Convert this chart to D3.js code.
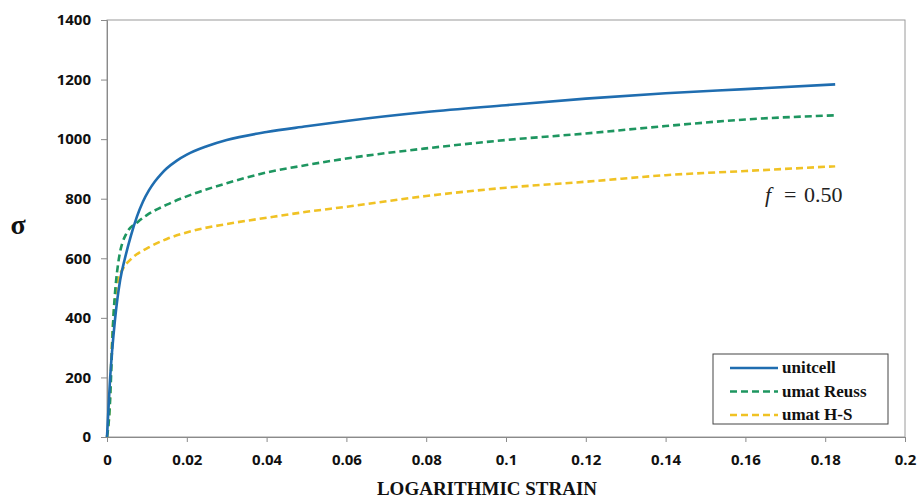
<!DOCTYPE html>
<html><head><meta charset="utf-8">
<script src="https://cdn.jsdelivr.net/npm/d3@7"></script>
<style>body{margin:0;background:#fff}</style>
</head><body>
<svg id="chart" width="920" height="498"></svg>
<script>
const xTicks = [0,0.02,0.04,0.06,0.08,0.1,0.12,0.14,0.16,0.18,0.2];
const yTicks = [0,200,400,600,800,1000,1200,1400];
const seriesNames = ["unitcell","umat Reuss","umat H-S"];

const unitcellStrain = [0,0.00075,0.002,0.0033,0.0045,0.006,0.0075,0.009,0.0105,0.012,0.0135,0.015,0.0175,0.02,0.025,0.03,0.04,0.05,0.06,0.08,0.1,0.12,0.14,0.16,0.1825];
const unitcellStress = [0,191,393,527,600,676,740,790,828,858,882,902,928,948,976,997,1024,1043,1061,1091,1114,1136,1154,1168,1184];

const reussStrain = [0,0.0006,0.0016,0.0028,0.0049,0.0078,0.01,0.015,0.0208,0.03,0.04,0.05,0.06,0.08,0.1,0.12,0.14,0.16,0.1825];
const reussStress = [0,80,400,583,684,723,745,780,812,852,888,913,935,969,997,1019,1044,1066,1080];

const hsStrain = [0,0.0006,0.0012,0.0028,0.0041,0.006,0.0108,0.015,0.0208,0.03,0.04,0.05,0.06,0.08,0.1,0.12,0.14,0.16,0.1825];
const hsStress = [0,90,303,527,567,597,639,665,690,715,736,756,773,809,837,857,879,893,909];

const colors = ["#1f6db0","#1e9660","#f0c224"];
const dashes = [null,"7,4","7,4"];

const svg = d3.select("#chart");
const m = {l:107,r:905,t:20,b:437};
const x = d3.scaleLinear().domain([0,0.2]).range([m.l,m.r]);
const y = d3.scaleLinear().domain([0,1400]).range([m.b,m.t]);

svg.append("rect").attr("x",m.l).attr("y",m.t).attr("width",m.r-m.l).attr("height",m.b-m.t)
  .attr("fill","none").attr("stroke","#9a9a9a").attr("stroke-width",1);

const xAxis = svg.append("g").attr("transform",`translate(0,${m.b})`)
  .call(d3.axisBottom(x).tickValues(xTicks).tickSize(5).tickPadding(12).tickFormat(d=>String(+d.toFixed(2))));
const yAxis = svg.append("g").attr("transform",`translate(${m.l},0)`)
  .call(d3.axisLeft(y).tickValues(yTicks).tickSize(6).tickPadding(10).tickFormat(d=>String(d)));
[xAxis,yAxis].forEach(a=>{
  a.select(".domain").attr("stroke","#8a8a8a");
  a.selectAll(".tick line").attr("stroke","#8a8a8a");
  a.selectAll(".tick text").attr("font-family","'Open Sans', sans-serif").attr("font-weight","bold")
   .attr("font-size",15).attr("fill","#111");
});

const data = [
  unitcellStrain.map((s,i)=>[s,unitcellStress[i]]),
  reussStrain.map((s,i)=>[s,reussStress[i]]),
  hsStrain.map((s,i)=>[s,hsStress[i]])
];
const line = d3.line().x(d=>x(d[0])).y(d=>y(d[1])).curve(d3.curveMonotoneX);
[2,1,0].forEach(i=>{
  svg.append("path").datum(data[i]).attr("d",line).attr("fill","none")
    .attr("stroke",colors[i]).attr("stroke-width",2.6)
    .attr("stroke-dasharray",dashes[i]);
});

const lg = svg.append("g");
lg.append("rect").attr("x",713).attr("y",354).attr("width",175).attr("height",70)
  .attr("fill","#fff").attr("stroke","#444").attr("stroke-width",1);
seriesNames.forEach((n,i)=>{
  const yy = 368 + i*23.5;
  lg.append("line").attr("x1",730).attr("x2",778).attr("y1",yy).attr("y2",yy)
    .attr("stroke",colors[i]).attr("stroke-width",2.6).attr("stroke-dasharray",dashes[i]);
  lg.append("text").attr("x",782).attr("y",yy+5).text(n)
    .attr("font-family","'Liberation Serif', serif").attr("font-weight","bold").attr("font-size",17).attr("fill","#111");
});

const annFont = "'Liberation Serif', serif";
svg.append("text").attr("x",765).attr("y",202).attr("font-family",annFont).attr("font-style","italic")
  .attr("font-size",22).attr("fill","#222").text("f");
svg.append("text").attr("x",784).attr("y",202).attr("font-family",annFont)
  .attr("font-size",22).attr("fill","#222").text("=");
svg.append("text").attr("x",804).attr("y",202).attr("font-family",annFont)
  .attr("font-size",22).attr("fill","#222").text("0.50");

svg.append("text").attr("x",487).attr("y",495).attr("text-anchor","middle")
  .attr("font-family","'Liberation Serif', serif").attr("font-weight","bold").attr("font-size",19)
  .attr("fill","#111").text("LOGARITHMIC STRAIN");
svg.append("text").attr("x",18).attr("y",234).attr("text-anchor","middle")
  .attr("font-family","'Liberation Serif', serif").attr("font-weight","bold").attr("font-size",28)
  .attr("fill","#111").text("σ");
</script>
</body></html>
